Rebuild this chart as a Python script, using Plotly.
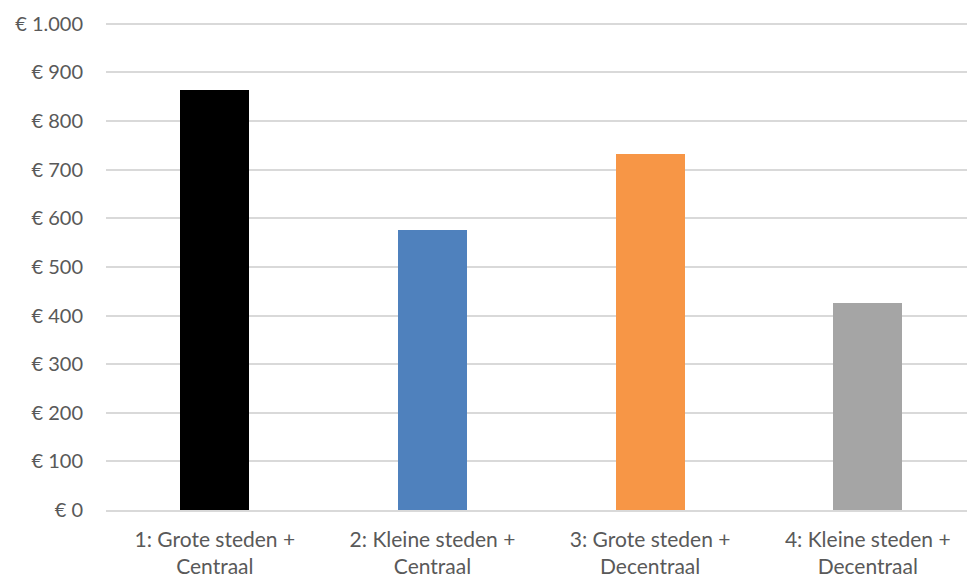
import plotly.graph_objects as go

categories = ["1: Grote steden +<br>Centraal", "2: Kleine steden +<br>Centraal",
              "3: Grote steden +<br>Decentraal", "4: Kleine steden +<br>Decentraal"]
values = [864, 577, 733, 425]
colors = ["#000000", "#4f81bd", "#f79646", "#a5a5a5"]
tick_vals = [0, 100, 200, 300, 400, 500, 600, 700, 800, 900, 1000]
tick_text = ["€ 0", "€ 100", "€ 200", "€ 300", "€ 400", "€ 500", "€ 600", "€ 700", "€ 800", "€ 900", "€ 1.000"]

fig = go.Figure(go.Bar(x=list(range(len(categories))), y=values, marker_color=colors,
                       marker_line_width=0, width=0.317))

fig.update_layout(
    width=967, height=579,
    margin=dict(l=106, r=0, t=19, b=69),
    plot_bgcolor="white", paper_bgcolor="white",
    font=dict(family="Lato, Carlito, Calibri, sans-serif", size=20, color="#595959"),
    showlegend=False,
    bargap=0,
)
fig.update_xaxes(range=[-0.5, 3.456], tickvals=list(range(len(categories))), ticktext=categories,
                 showgrid=False, showline=True, linecolor="#d9d9d9", linewidth=1.5,
                 ticks="", zeroline=False, tickfont=dict(size=21), ticklabelstandoff=10)
fig.update_yaxes(range=[0, 1010], tickvals=tick_vals, ticktext=tick_text,
                 showgrid=True, gridcolor="#d9d9d9", gridwidth=1.5, zeroline=False,
                 showline=False, ticks="", ticklabelstandoff=22, tickfont=dict(size=20))

fig.write_html("out.html")
